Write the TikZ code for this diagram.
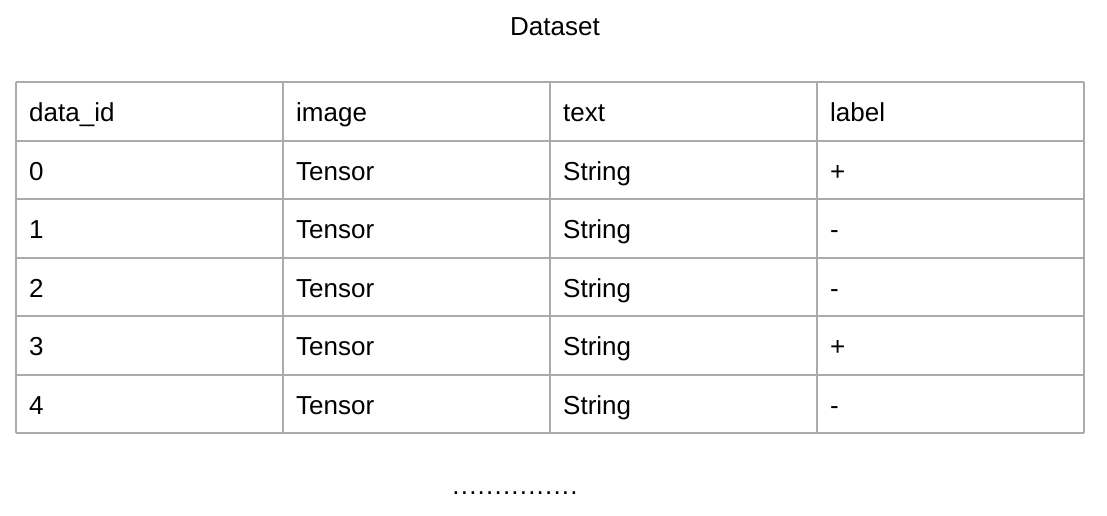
\documentclass[tikz,border=0pt]{standalone}
\usepackage{fontspec}
\setmainfont{Liberation Sans}
\begin{document}
\begin{tikzpicture}[x=1pt,y=-1pt,
  gridline/.style={draw=black!33,line width=1.2pt},
  cell/.style={anchor=base west,inner sep=0pt,font=\fontsize{26}{30}\selectfont}]
\useasboundingbox (0,0) rectangle (1107,515);
\node[cell,anchor=base] (title) at (555,35) {Dataset};
% grid
\foreach \y in {82,141,199,258,316,375,433}
  \draw[gridline] (16,\y) -- (1084,\y);
\foreach \x in {16,283,550,817,1084}
  \draw[gridline] (\x,82) -- (\x,433);
% header
\node[cell] (h1) at (29,121.5) {data\_id};
\node[cell] (h2) at (296,121.5) {image};
\node[cell] (h3) at (563,121.5) {text};
\node[cell] (h4) at (830,121.5) {label};
\foreach \i/\l in {0/+,1/-,2/-,3/+,4/-}{
  \pgfmathsetmacro{\yy}{121.5+58.5*(\i+1)}
  \node[cell] (id\i) at (29,\yy) {\i};
  \node[cell] (im\i) at (296,\yy) {Tensor};
  \node[cell] (tx\i) at (563,\yy) {String};
  \node[cell] (lb\i) at (830,\yy) {\l};
}
\node[cell,anchor=base,font=\fontsize{26}{30}\selectfont\addfontfeature{LetterSpace=4.6}] (dots) at (515,494) {...............};
\end{tikzpicture}
\end{document}
